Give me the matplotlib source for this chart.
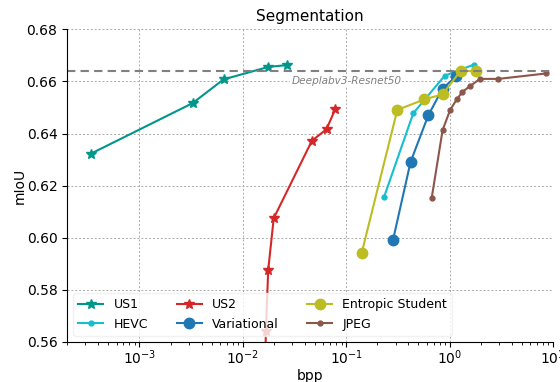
import matplotlib
matplotlib.use("Agg")
import matplotlib.pyplot as plt

us1_bpp = [3.4e-4, 3.27e-3, 6.5e-3, 0.0177, 0.0268]
us1_miou = [0.6323, 0.6517, 0.6608, 0.6656, 0.6663]

us2_bpp = [0.0163, 0.0167, 0.0176, 0.0199, 0.0465, 0.0645, 0.0787]
us2_miou = [0.540, 0.5643, 0.5877, 0.6075, 0.6372, 0.6417, 0.6496]

hevc_bpp = [0.233, 0.445, 0.895, 1.72]
hevc_miou = [0.6158, 0.6478, 0.6622, 0.6665]

var_bpp = [0.283, 0.419, 0.622, 0.855, 1.16]
var_miou = [0.5990, 0.6291, 0.6470, 0.6573, 0.6620]

ent_bpp = [0.141, 0.312, 0.569, 0.855, 1.28, 1.79]
ent_miou = [0.5941, 0.6491, 0.6531, 0.6551, 0.6641, 0.6640]

jpeg_bpp = [0.67, 0.855, 1.01, 1.17, 1.33, 1.57, 1.97, 2.96, 8.63]
jpeg_miou = [0.6151, 0.6413, 0.6490, 0.6531, 0.6560, 0.6582, 0.6610, 0.6610, 0.6631]

baseline = 0.664
baseline_label = "Deeplabv3-Resnet50"
yticks = [0.56, 0.58, 0.60, 0.62, 0.64, 0.66, 0.68]

fig = plt.figure(figsize=(5.6, 3.82), dpi=100)
ax = fig.add_axes([0.12, 0.105, 0.8675, 0.818])

ax.plot(us1_bpp, us1_miou, '-*', color='#00968a', ms=7, lw=1.5, label='US1')
ax.plot(hevc_bpp, hevc_miou, '-o', color='#17becf', ms=3.5, lw=1.5, label='HEVC')
ax.plot(us2_bpp, us2_miou, '-*', color='#d62728', ms=7, lw=1.5, label='US2')
ax.plot(var_bpp, var_miou, '-o', color='#1f77b4', ms=7.5, lw=1.5, label='Variational')
ax.plot(ent_bpp, ent_miou, '-o', color='#bcbd22', ms=7.5, lw=1.5, label='Entropic Student')
ax.plot(jpeg_bpp, jpeg_miou, '-o', color='#8c564b', ms=3.5, lw=1.5, label='JPEG')

ax.axhline(baseline, color='gray', ls=(0, (4, 2.5)), lw=1.5)
ax.text(0.1, 0.66, baseline_label, color='gray', style='italic', fontsize=7.6,
        ha='center', va='center',
        bbox=dict(facecolor='white', edgecolor='none', pad=0.5))

ax.set_xscale('log')
ax.set_xlim(2e-4, 10)
ax.set_ylim(0.56, 0.68)
ax.set_yticks(yticks)
ax.set_yticklabels([f"{v:.2f}" for v in yticks])
ax.grid(True, which='major', ls=(0, (2, 2)), color='#aaaaaa', lw=0.7)
ax.spines['top'].set_visible(False)
ax.spines['right'].set_visible(False)
ax.tick_params(axis='x', which='major', pad=1.5)
ax.set_xlabel('bpp', labelpad=1)
ax.set_ylabel('mIoU', labelpad=0)
ax.set_title('Segmentation', fontsize=11)

ax.legend(loc='lower left', ncol=3, fontsize=9, framealpha=0.8,
          edgecolor='#eeeeee', handlelength=2, columnspacing=2.3)

fig.savefig('out.png', dpi=100)
